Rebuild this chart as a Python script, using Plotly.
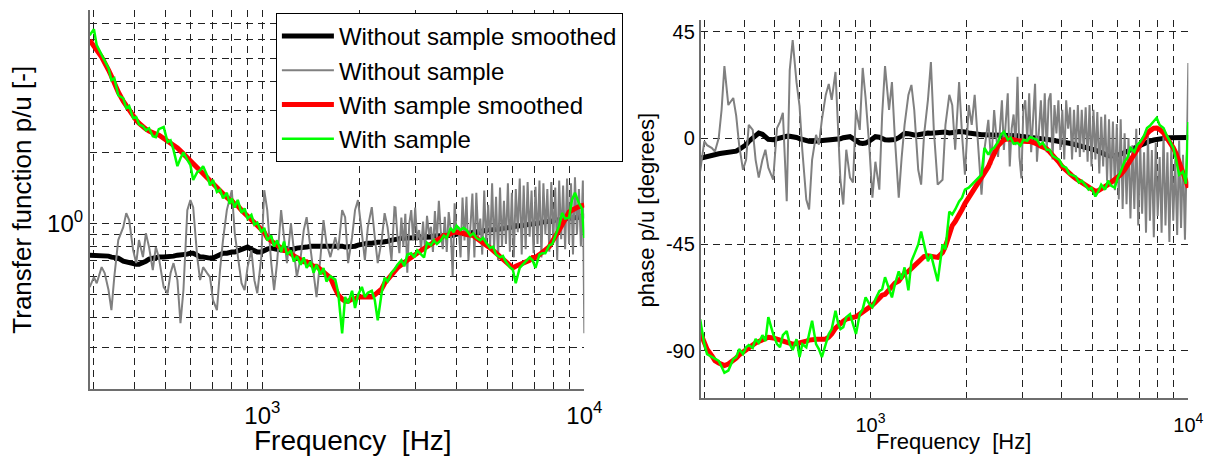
import math
import plotly.graph_objects as go

# Frequencies (Hz) of the smoothed curves and of the "with sample" measurement
FREQ = [
    291, 300, 306, 317, 324, 333, 340, 347, 357, 370,
    378, 386, 397, 406, 414, 426, 435, 445, 457, 467,
    477, 494, 508, 519, 530, 545, 557, 569, 585, 598,
    610, 628, 641, 655, 674, 688, 703, 723, 739, 755,
    776, 792, 804, 821, 839, 862, 881, 900, 925, 945,
    965, 993, 1014, 1036, 1066, 1088, 1111, 1144, 1168, 1193,
    1227, 1253, 1280, 1316, 1345, 1373, 1413, 1443, 1474, 1516,
    1549, 1582, 1627, 1685, 1721, 1770, 1808, 1847, 1900, 1941,
    1982, 2038, 2082, 2127, 2188, 2235, 2283, 2348, 2398, 2449,
    2519, 2573, 2628, 2704, 2761, 2820, 2901, 2963, 3027, 3113,
    3179, 3247, 3340, 3411, 3484, 3584, 3661, 3739, 3846, 3928,
    4012, 4127, 4215, 4305, 4429, 4523, 4620, 4752, 4853, 4957,
    5099, 5208, 5319, 5471, 5588, 5707, 5871, 5996, 6124, 6300,
    6434, 6572, 6761, 6905, 7053, 7255, 7410, 7568, 7786, 7951,
    8121, 8355, 8533, 8716, 8966, 9157, 9352, 9621, 9825, 10000,
]

# Frequencies (Hz) of the raw "without sample" measurement
FREQ_RAW = [
    291, 300, 306, 317, 324, 333, 340, 347, 357, 370,
    378, 386, 397, 406, 414, 426, 435, 445, 457, 467,
    477, 494, 508, 519, 530, 545, 557, 569, 585, 598,
    610, 628, 641, 655, 674, 688, 703, 723, 739, 755,
    776, 792, 804, 821, 839, 862, 881, 900, 925, 945,
    965, 993, 1014, 1036, 1066, 1088, 1111, 1144, 1168, 1193,
    1227, 1253, 1280, 1316, 1345, 1373, 1413, 1443, 1474, 1516,
    1549, 1582, 1627, 1685, 1721, 1770, 1808, 1847, 1900, 1941,
    1982, 2038, 2082, 2127, 2188, 2235, 2283, 2348, 2398, 2449,
    2519, 2573,
    2591, 2628, 2665, 2703, 2742, 2781, 2820, 2860, 2901, 2942,
    2984, 3026, 3069, 3113, 3157, 3202, 3247, 3294, 3340, 3388,
    3436, 3485, 3534, 3584, 3635, 3687, 3739, 3792, 3846, 3901,
    3956, 4013, 4070, 4127, 4186, 4245, 4306, 4367, 4429, 4492,
    4556, 4620, 4686, 4753, 4820, 4889, 4958, 5029, 5100, 5172,
    5246, 5320, 5396, 5473, 5550, 5629, 5709, 5790, 5873, 5956,
    6041, 6126, 6213, 6302, 6391, 6482, 6574, 6667, 6762, 6858,
    6956, 7054, 7155, 7256, 7359, 7464, 7570, 7677, 7786, 7897,
    8009, 8123, 8238, 8355, 8474, 8594, 8717, 8840, 8966, 9093,
    9222, 9353, 9486, 9621, 9758, 9896, 10000,
]

# |p/u| without sample, smoothed
MAG_WITHOUT_SMOOTHED = [
    0.736, 0.736, 0.736, 0.736, 0.736, 0.729, 0.722, 0.722, 0.715, 0.694,
    0.688, 0.681, 0.674, 0.674, 0.674, 0.681, 0.694, 0.708, 0.715, 0.715,
    0.722, 0.722, 0.722, 0.729, 0.729, 0.736, 0.736, 0.736, 0.743, 0.750,
    0.750, 0.736, 0.722, 0.722, 0.715, 0.715, 0.715, 0.729, 0.743, 0.750,
    0.750, 0.758, 0.758, 0.758, 0.765, 0.773, 0.788, 0.796, 0.780, 0.765,
    0.758, 0.758, 0.773, 0.780, 0.788, 0.788, 0.780, 0.773, 0.773, 0.773,
    0.780, 0.780, 0.788, 0.788, 0.796, 0.796, 0.803, 0.803, 0.811, 0.811,
    0.811, 0.811, 0.811, 0.811, 0.803, 0.803, 0.796, 0.796, 0.796, 0.803,
    0.811, 0.819, 0.819, 0.827, 0.827, 0.835, 0.835, 0.835, 0.835, 0.843,
    0.852, 0.852, 0.860, 0.868, 0.868, 0.868, 0.868, 0.868, 0.868, 0.877,
    0.877, 0.877, 0.877, 0.886, 0.886, 0.886, 0.894, 0.894, 0.894, 0.894,
    0.903, 0.903, 0.903, 0.912, 0.912, 0.921, 0.921, 0.930, 0.930, 0.939,
    0.939, 0.939, 0.948, 0.948, 0.957, 0.957, 0.967, 0.967, 0.976, 0.976,
    0.986, 0.986, 0.995, 0.995, 1.005, 1.005, 1.015, 1.015, 1.025, 1.025,
    1.035, 1.035, 1.045, 1.045, 1.055, 1.055, 1.065, 1.065, 1.076, 1.076,
]

# |p/u| without sample (on FREQ_RAW)
MAG_WITHOUT = [
    0.539, 0.594, 0.560, 0.655, 0.618, 0.524, 0.431, 0.594, 0.852, 0.967,
    1.108, 1.035, 0.773, 0.681, 0.852, 0.722, 0.912, 0.796, 0.636, 0.796,
    0.722, 0.539, 0.508, 0.618, 0.681, 0.577, 0.380, 0.524, 1.141, 1.257,
    1.174, 0.722, 0.577, 0.655, 0.618, 0.594, 0.475, 0.431, 0.636, 0.852,
    1.141, 1.294, 1.385, 0.912, 0.722, 0.560, 0.524, 0.655, 0.773, 0.577,
    0.508, 0.722, 1.385, 1.141, 0.681, 0.524, 0.681, 1.141, 0.877, 0.681,
    1.005, 0.773, 0.594, 0.722, 0.939, 1.065, 0.773, 0.594, 0.489, 0.722,
    1.035, 0.827, 0.722, 0.877, 0.773, 1.141, 1.065, 0.681, 0.877, 1.141,
    1.257, 0.912, 0.701, 0.967, 1.174, 0.877, 0.681, 0.852, 1.108, 0.967,
    0.701, 1.174,
    1.17, 0.88, 0.75, 1.06, 0.80, 1.10, 0.62, 1.00, 1.14, 0.85,
    1.17, 0.85, 0.94, 0.78, 1.02, 0.77, 1.08, 0.90, 0.97, 0.76,
    1.13, 0.84, 1.25, 0.92, 0.78, 1.07, 0.76, 1.12, 0.94, 0.60,
    1.22, 0.90, 0.97, 0.72, 1.29, 0.85, 1.30, 0.70, 0.95, 1.34,
    0.72, 1.35, 0.88, 1.05, 0.74, 1.38, 0.82, 1.20, 0.80, 1.48,
    0.78, 1.30, 0.70, 1.42, 0.80, 1.25, 0.82, 1.48, 0.76, 1.35,
    0.72, 1.40, 0.92, 1.55, 0.74, 1.45, 0.78, 1.50, 0.88, 1.38,
    0.75, 1.43, 0.82, 1.52, 0.72, 1.48, 0.90, 1.40, 0.76, 1.50,
    0.84, 1.42, 0.70, 1.52, 0.86, 1.45, 0.78, 1.55, 0.82, 1.48,
    0.74, 1.57, 0.90, 1.40, 0.80, 1.52, 0.344,
]

# |p/u| with sample, smoothed
MAG_WITH_SMOOTHED = [
    5.97, 5.57, 5.41, 5.06, 4.82, 4.46, 4.20, 3.93, 3.60, 3.29,
    3.14, 3.02, 2.85, 2.74, 2.66, 2.56, 2.51, 2.46, 2.41, 2.39,
    2.37, 2.30, 2.25, 2.19, 2.15, 2.09, 2.03, 1.97, 1.89, 1.84,
    1.78, 1.72, 1.67, 1.62, 1.56, 1.51, 1.47, 1.41, 1.37, 1.33,
    1.29, 1.26, 1.25, 1.21, 1.19, 1.14, 1.11, 1.08, 1.04, 1.01,
    0.98, 0.95, 0.92, 0.87, 0.84, 0.83, 0.81, 0.79, 0.77, 0.77,
    0.74, 0.73, 0.72, 0.70, 0.69, 0.69, 0.67, 0.66, 0.66, 0.64,
    0.62, 0.61, 0.59, 0.53, 0.50, 0.48, 0.47, 0.47, 0.48, 0.48,
    0.49, 0.49, 0.49, 0.49, 0.49, 0.50, 0.51, 0.53, 0.56, 0.58,
    0.61, 0.63, 0.65, 0.67, 0.69, 0.70, 0.72, 0.74, 0.75, 0.77,
    0.79, 0.80, 0.82, 0.84, 0.85, 0.87, 0.89, 0.89, 0.91, 0.92,
    0.92, 0.92, 0.91, 0.90, 0.89, 0.89, 0.87, 0.85, 0.83, 0.81,
    0.79, 0.77, 0.75, 0.73, 0.71, 0.69, 0.67, 0.65, 0.66, 0.67,
    0.68, 0.69, 0.70, 0.72, 0.72, 0.74, 0.76, 0.77, 0.80, 0.84,
    0.89, 0.94, 0.99, 1.05, 1.12, 1.14, 1.16, 1.18, 1.19, 1.20,
]

# |p/u| with sample
MAG_WITH = [
    6.26, 6.64, 5.68, 5.15, 4.91, 4.54, 4.04, 4.12, 3.49, 3.39,
    3.08, 3.14, 2.79, 2.82, 2.63, 2.58, 2.48, 2.53, 2.34, 2.32,
    2.51, 2.56, 2.21, 2.25, 2.05, 1.75, 1.89, 2.00, 1.86, 1.77,
    1.53, 1.65, 1.68, 1.75, 1.60, 1.45, 1.53, 1.36, 1.39, 1.28,
    1.35, 1.21, 1.28, 1.17, 1.26, 1.11, 1.16, 1.05, 1.09, 0.99,
    1.01, 0.92, 0.96, 0.85, 0.89, 0.80, 0.85, 0.76, 0.84, 0.74,
    0.77, 0.69, 0.73, 0.67, 0.72, 0.65, 0.69, 0.62, 0.67, 0.61,
    0.65, 0.57, 0.60, 0.58, 0.51, 0.344, 0.49, 0.46, 0.52, 0.44,
    0.50, 0.54, 0.49, 0.51, 0.52, 0.475, 0.39, 0.51, 0.59, 0.57,
    0.62, 0.64, 0.67, 0.70, 0.66, 0.74, 0.75, 0.72, 0.77, 0.74,
    0.72, 0.83, 0.81, 0.85, 0.82, 0.85, 0.89, 0.87, 0.96, 0.92,
    0.98, 0.94, 0.96, 0.94, 0.89, 0.91, 0.87, 0.85, 0.87, 0.83,
    0.79, 0.80, 0.74, 0.72, 0.73, 0.69, 0.655, 0.64, 0.56, 0.65,
    0.67, 0.69, 0.72, 0.70, 0.65, 0.74, 0.75, 0.75, 0.81, 0.82,
    0.88, 0.98, 1.11, 1.05, 1.06, 1.26, 1.35, 1.22, 1.16, 0.87,
]

# phase of p/u (degrees) without sample, smoothed
PH_WITHOUT_SMOOTHED = [
    -8.5, -8.0, -7.6, -7.0, -6.9, -6.6, -6.4, -6.3, -6.1, -5.8,
    -5.5, -4.8, -3.8, -2.8, -1.4, 0.0, 1.2, 2.1, 1.6, 0.2,
    -0.5, -0.7, -0.3, 0.2, 0.7, 0.8, 0.8, 0.7, 0.3, -0.2,
    -0.6, -1.0, -1.3, -1.4, -1.3, -1.1, -0.9, -0.7, -0.7, -0.7,
    -0.7, -0.6, -0.3, 0.2, 0.6, 0.6, -0.2, -1.3, -2.1, -2.3,
    -2.1, -1.2, -0.2, 0.6, 0.4, -0.2, -0.7, -0.8, -0.8, -0.6,
    0.2, 1.2, 2.0, 1.9, 1.5, 1.3, 1.4, 1.7, 2.0, 2.2,
    2.1, 2.2, 2.4, 2.7, 2.6, 2.2, 2.2, 2.5, 2.8, 2.9,
    2.6, 2.2, 1.9, 1.6, 1.5, 1.4, 1.4, 1.4, 1.4, 1.4,
    1.4, 1.4, 1.4, 1.4, 1.4, 1.2, 1.0, 0.8, 0.7, 0.5,
    0.4, 0.2, 0.1, -0.1, -0.3, -0.5, -0.7, -0.9, -1.1, -1.3,
    -1.5, -1.8, -2.1, -2.4, -2.8, -3.1, -3.4, -3.7, -4.1, -4.5,
    -5.1, -5.6, -6.3, -7.0, -7.4, -7.6, -7.5, -7.2, -6.8, -6.2,
    -5.6, -5.0, -4.3, -3.6, -3.0, -2.3, -1.8, -1.3, -0.8, -0.5,
    -0.2, 0.0, 0.1, 0.2, 0.2, 0.3, 0.3, 0.3, 0.3, 0.3,
]

# phase of p/u (degrees) without sample (on FREQ_RAW)
PH_WITHOUT = [
    -14.1, -1.4, -3.0, -4.2, -5.7, 0.0, 12.0, 30.5, 14.0, 17.0,
    9.4, -2.8, -13.4, -9.2, 5.6, 3.5, -9.2, -16.7, -9.2, -4.9,
    -12.5, -17.6, 4.3, 6.9, 10.7, -26.7, 28.8, 41.5, 23.7, 13.6,
    -4.9, -26.0, -30.2, -9.2, 1.4, -2.8, 7.7, 18.3, 22.9, 16.2,
    28.0, -0.7, -17.6, -28.1, -4.9, -16.7, -18.8, 11.9, 3.5, 29.7,
    17.0, -4.9, -25.2, -10.0, -21.8, 9.8, 30.5, 11.9, 23.7, 0.1,
    -25.2, -8.3, 5.6, 18.3, 22.5, 11.9, -13.4, -19.7, 1.4, 16.2,
    32.2, 3.5, -19.7, -17.6, 5.6, 18.3, 14.0, -4.9, 23.7, 1.4,
    -15.5, 14.0, 5.6, 18.3, -4.9, -23.9, -4.9, 7.7, -11.2, 11.9,
    -8.0, 14.0,
    16, -5, 9, 19, -12, 4, 10, -3, 26, -8,
    -17, 12, 16, -1, 19, -6, 8, 23, -10, 5,
    16, -2, 19, -6, 16, 19, -9, 14, 2, 16,
    -5, 12, -9, 16, 4, 13, -9, 12, -6, 14,
    -8, 12, -6, 13, -10, 14, -12, 12, -9, 11,
    -15, 9, -12, 10, -18, 8, -20, 7, -22, 6,
    -26, 8, -30, 2, -28, 0, -34, -3, -30, 4,
    -37, -2, -32, -6, -40, 1, -35, -5, -42, -2,
    -33, -8, -40, 2, -37, -6, -44, -3, -35, -9,
    -41, -1, -38, -7, -43, -4, 31.8,
]

# phase of p/u (degrees) with sample, smoothed
PH_WITH_SMOOTHED = [
    -82.1, -86.3, -89.3, -92.2, -94.2, -95.2, -96.0, -96.3, -95.6, -94.3,
    -93.1, -91.8, -90.5, -89.7, -88.8, -87.6, -86.7, -86.1, -85.5, -84.6,
    -84.3, -84.6, -85.1, -85.5, -86.1, -86.7, -87.2, -87.2, -87.0, -86.5,
    -86.3, -85.9, -85.5, -85.2, -85.1, -85.1, -85.1, -85.1, -84.2, -82.9,
    -80.4, -79.2, -78.3, -77.5, -76.6, -76.2, -75.8, -75.6, -74.5, -73.7,
    -72.6, -71.4, -70.7, -69.5, -67.8, -66.5, -66.1, -64.0, -62.3, -61.4,
    -60.5, -58.9, -57.2, -56.4, -55.1, -53.9, -52.2, -51.3, -50.1, -49.8,
    -50.1, -50.5, -50.5, -48.4, -45.8, -40.8, -37.0, -35.3, -32.8, -30.2,
    -27.7, -25.2, -23.1, -21.0, -18.4, -16.7, -14.6, -12.1, -9.2, -6.2,
    -3.2, -2.0, -0.7, -0.3, -0.3, -0.7, -1.1, -1.3, -1.4, -1.4,
    -1.4, -1.6, -2.4, -3.2, -3.7, -4.5, -5.8, -7.0, -8.7, -10.4,
    -12.1, -13.8, -15.1, -15.9, -17.2, -18.0, -18.8, -19.9, -21.0, -21.8,
    -22.5, -22.2, -21.6, -20.5, -19.7, -18.8, -17.6, -16.3, -15.5, -13.4,
    -11.3, -9.6, -7.0, -4.9, -2.8, 0.1, 1.8, 3.1, 4.2, 4.3,
    3.7, 2.2, 0.5, -1.1, -4.1, -6.6, -10.0, -14.2, -18.4, -21.0,
]

# phase of p/u (degrees) with sample
PH_WITH = [
    -76.6, -87.1, -91.4, -92.7, -93.5, -94.3, -96.8, -99.3, -98.4, -93.5,
    -92.7, -89.3, -91.4, -88.5, -87.6, -88.8, -85.0, -86.7, -83.4, -85.9,
    -75.8, -82.9, -87.2, -88.5, -83.4, -81.7, -87.2, -89.7, -85.1, -92.7,
    -87.2, -88.5, -82.9, -77.3, -87.2, -89.3, -92.7, -87.2, -82.9, -80.8,
    -73.1, -78.7, -80.8, -80.0, -75.8, -74.5, -78.7, -82.9, -74.5, -72.4,
    -67.4, -70.3, -71.6, -68.2, -64.8, -64.0, -58.9, -64.0, -67.4, -61.9,
    -56.4, -59.8, -54.7, -64.4, -52.1, -49.2, -45.0, -39.5, -45.0, -52.1,
    -49.2, -54.7, -60.6, -45.0, -47.1, -31.1, -32.3, -30.2, -26.8, -25.2,
    -21.8, -21.0, -19.7, -18.8, -16.7, -15.5, -4.1, -7.0, -4.9, -4.1,
    -1.6, 1.4, 2.7, -0.7, 0.1, -2.4, -2.0, -3.2, -0.7, -1.1,
    0.5, 0.1, -0.7, -2.8, -2.0, -4.9, -4.9, -7.5, -8.3, -9.2,
    -11.7, -12.5, -15.1, -15.5, -16.3, -18.8, -18.0, -20.1, -21.8, -21.0,
    -24.7, -22.6, -19.7, -21.8, -18.0, -20.1, -21.0, -16.7, -14.2, -9.9,
    -8.3, -4.1, -5.8, -2.8, -1.6, 1.0, 4.3, 5.2, 6.9, 8.6,
    5.6, 4.3, 1.4, -0.7, -4.1, -9.2, -15.5, -14.2, -19.3, 6.8,
]

# grid / tick positions
X_GRID = [300, 400, 500, 600, 700, 800, 900, 1000,
          2000, 3000, 4000, 5000, 6000, 7000, 8000, 9000, 10000]
X_LABELS = {1000: "10<sup>3</sup>", 10000: "10<sup>4</sup>"}
MAG_GRID = [0.2, 0.3, 0.4, 0.5, 0.6, 0.7, 0.8, 0.9, 1, 2, 3, 4, 5, 6, 7, 8]
MAG_LABELS = {1: "10<sup>0</sup>"}
PH_GRID = [-90, -45, 0, 45]

SERIES_NAMES = ["Without sample smoothed", "Without sample",
                "With sample smoothed", "With sample"]
SERIES_COLORS = ["#000000", "#808080", "#ff0000", "#00ff00"]
SERIES_WIDTHS = [5, 2, 5, 2.5]

FONT = "Arial, 'Liberation Sans', sans-serif"

fig = go.Figure()

mag_series = [(FREQ, MAG_WITHOUT_SMOOTHED), (FREQ_RAW, MAG_WITHOUT),
              (FREQ, MAG_WITH_SMOOTHED), (FREQ, MAG_WITH)]
ph_series = [(FREQ, PH_WITHOUT_SMOOTHED), (FREQ_RAW, PH_WITHOUT),
             (FREQ, PH_WITH_SMOOTHED), (FREQ, PH_WITH)]

for name, col, w, (xs, ys) in zip(SERIES_NAMES, SERIES_COLORS, SERIES_WIDTHS, mag_series):
    fig.add_trace(go.Scatter(x=xs, y=ys, mode="lines", name=name,
                             line=dict(color=col, width=w),
                             xaxis="x", yaxis="y"))

for name, col, w, (xs, ys) in zip(SERIES_NAMES, SERIES_COLORS, SERIES_WIDTHS, ph_series):
    fig.add_trace(go.Scatter(x=xs, y=ys, mode="lines", name=name,
                             line=dict(color=col, width=w), showlegend=False,
                             xaxis="x2", yaxis="y2"))

W, H = 1229, 459


def px_x(p):
    return p / W


def px_y(p):
    return 1 - p / H


grid_style = dict(showgrid=True, gridcolor="#222222", gridwidth=1,
                  griddash="7px,5px", zeroline=False, ticks="",
                  showline=True, linecolor="#6e6e6e", linewidth=1.5)

fig.update_layout(
    width=W, height=H,
    margin=dict(l=0, r=0, t=0, b=0),
    paper_bgcolor="white", plot_bgcolor="white",
    font=dict(family=FONT, color="black"),
    xaxis=dict(type="log", domain=[px_x(91), px_x(593)],
               range=[math.log10(291), 4], anchor="y",
               tickvals=X_GRID, ticktext=[X_LABELS.get(v, "") for v in X_GRID],
               tickfont=dict(size=24), ticklabelstandoff=4, **grid_style),
    yaxis=dict(type="log", domain=[px_y(389), px_y(10)],
               range=[math.log10(0.2), math.log10(8)], anchor="x",
               tickvals=MAG_GRID, ticktext=[MAG_LABELS.get(v, "") for v in MAG_GRID],
               tickfont=dict(size=24), **grid_style),
    xaxis2=dict(type="log", domain=[px_x(711), px_x(1206)],
                range=[math.log10(292), 4], anchor="y2",
                tickvals=X_GRID, ticktext=[X_LABELS.get(v, "") for v in X_GRID],
                tickfont=dict(size=20), ticklabelstandoff=8, **grid_style),
    yaxis2=dict(domain=[px_y(398), px_y(20)], range=[-110, 50], anchor="x2",
                tickvals=PH_GRID, ticktext=[str(v) for v in PH_GRID],
                tickfont=dict(size=20), **grid_style),
    legend=dict(x=px_x(280), y=px_y(13), xanchor="left", yanchor="top",
                bgcolor="white", bordercolor="black", borderwidth=1,
                font=dict(size=24, family=FONT), itemwidth=52,
                tracegroupgap=0),
    showlegend=True,
)

fig.add_annotation(text="Transfer function p/u [-]", textangle=-90,
                   x=px_x(22), y=px_y(200), xref="paper", yref="paper",
                   xanchor="center", yanchor="middle",
                   showarrow=False, font=dict(size=26))
fig.add_annotation(text="Frequency\u00a0\u00a0[Hz]",
                   x=px_x(358), y=px_y(440), xref="paper", yref="paper",
                   xanchor="center", yanchor="middle",
                   showarrow=False, font=dict(size=28))
fig.add_annotation(text="phase p/u [degrees]", textangle=-90,
                   x=px_x(657), y=px_y(210), xref="paper", yref="paper",
                   xanchor="center", yanchor="middle",
                   showarrow=False, font=dict(size=22))
fig.add_annotation(text="Frequency\u00a0\u00a0[Hz]",
                   x=px_x(968), y=px_y(441), xref="paper", yref="paper",
                   xanchor="center", yanchor="middle",
                   showarrow=False, font=dict(size=22))

fig.write_html("out.html")
